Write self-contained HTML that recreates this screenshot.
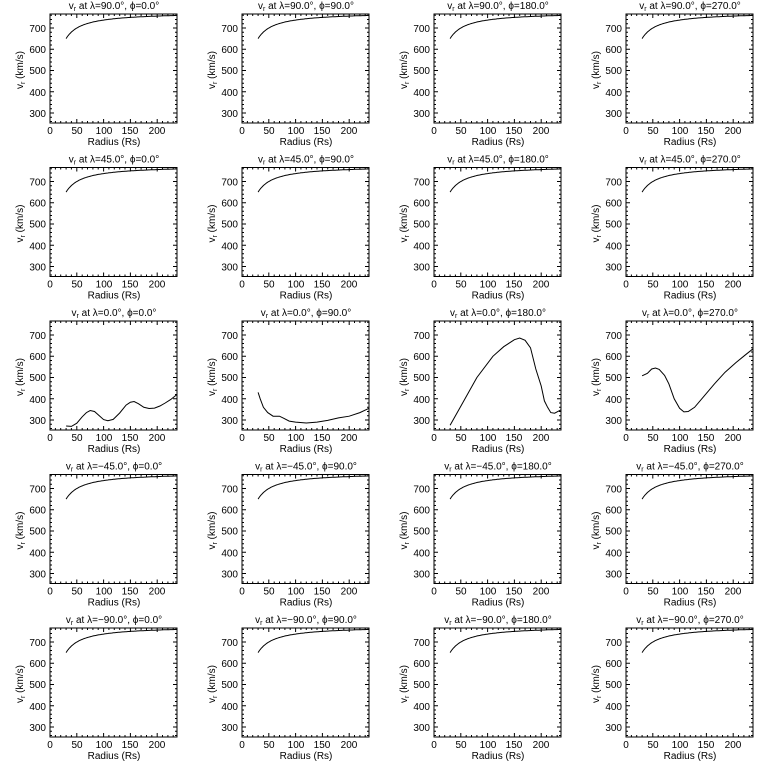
<!DOCTYPE html>
<html><head><meta charset="utf-8"><style>
body{margin:0;background:#fff}
svg{display:block}
text{font-family:"Liberation Sans",sans-serif;font-size:10px;fill:#000}
.t{text-anchor:middle}
.y{text-anchor:end}
</style></head><body>
<svg id="s" width="768" height="768" viewBox="0 0 768 768">
<rect width="768" height="768" fill="#fff"/>
<g id="p0" transform="translate(50,14)"><text class="t" x="64" y="-5">v<tspan font-size="7" dy="2">r</tspan><tspan dy="-2"> at λ=90.0°, ϕ=0.0°</tspan></text><text class="y" x="-4" y="18">700</text><text class="y" x="-4" y="39">600</text><text class="y" x="-4" y="60">500</text><text class="y" x="-4" y="82">400</text><text class="y" x="-4" y="103">300</text><text class="t" x="0" y="120">0</text><text class="t" x="27" y="120">50</text><text class="t" x="54" y="120">100</text><text class="t" x="80" y="120">150</text><text class="t" x="107" y="120">200</text><text class="t" x="64" y="131">Radius (Rs)</text><text class="t" transform="translate(-27,56) rotate(-90)">v<tspan font-size="7" dy="2">r</tspan><tspan dy="-2"> (km/s)</tspan></text></g>
<g id="p1" transform="translate(242,14)"><text class="t" x="64" y="-5">v<tspan font-size="7" dy="2">r</tspan><tspan dy="-2"> at λ=90.0°, ϕ=90.0°</tspan></text><text class="y" x="-4" y="18">700</text><text class="y" x="-4" y="39">600</text><text class="y" x="-4" y="60">500</text><text class="y" x="-4" y="82">400</text><text class="y" x="-4" y="103">300</text><text class="t" x="0" y="120">0</text><text class="t" x="27" y="120">50</text><text class="t" x="54" y="120">100</text><text class="t" x="80" y="120">150</text><text class="t" x="107" y="120">200</text><text class="t" x="64" y="131">Radius (Rs)</text><text class="t" transform="translate(-27,56) rotate(-90)">v<tspan font-size="7" dy="2">r</tspan><tspan dy="-2"> (km/s)</tspan></text></g>
<g id="p2" transform="translate(434,14)"><text class="t" x="64" y="-5">v<tspan font-size="7" dy="2">r</tspan><tspan dy="-2"> at λ=90.0°, ϕ=180.0°</tspan></text><text class="y" x="-4" y="18">700</text><text class="y" x="-4" y="39">600</text><text class="y" x="-4" y="60">500</text><text class="y" x="-4" y="82">400</text><text class="y" x="-4" y="103">300</text><text class="t" x="0" y="120">0</text><text class="t" x="27" y="120">50</text><text class="t" x="54" y="120">100</text><text class="t" x="80" y="120">150</text><text class="t" x="107" y="120">200</text><text class="t" x="64" y="131">Radius (Rs)</text><text class="t" transform="translate(-27,56) rotate(-90)">v<tspan font-size="7" dy="2">r</tspan><tspan dy="-2"> (km/s)</tspan></text></g>
<g id="p3" transform="translate(626,14)"><text class="t" x="64" y="-5">v<tspan font-size="7" dy="2">r</tspan><tspan dy="-2"> at λ=90.0°, ϕ=270.0°</tspan></text><text class="y" x="-4" y="18">700</text><text class="y" x="-4" y="39">600</text><text class="y" x="-4" y="60">500</text><text class="y" x="-4" y="82">400</text><text class="y" x="-4" y="103">300</text><text class="t" x="0" y="120">0</text><text class="t" x="27" y="120">50</text><text class="t" x="54" y="120">100</text><text class="t" x="80" y="120">150</text><text class="t" x="107" y="120">200</text><text class="t" x="64" y="131">Radius (Rs)</text><text class="t" transform="translate(-27,56) rotate(-90)">v<tspan font-size="7" dy="2">r</tspan><tspan dy="-2"> (km/s)</tspan></text></g>
<g id="p4" transform="translate(50,167.5)"><text class="t" x="64" y="-5">v<tspan font-size="7" dy="2">r</tspan><tspan dy="-2"> at λ=45.0°, ϕ=0.0°</tspan></text><text class="y" x="-4" y="18">700</text><text class="y" x="-4" y="39">600</text><text class="y" x="-4" y="60">500</text><text class="y" x="-4" y="82">400</text><text class="y" x="-4" y="103">300</text><text class="t" x="0" y="120">0</text><text class="t" x="27" y="120">50</text><text class="t" x="54" y="120">100</text><text class="t" x="80" y="120">150</text><text class="t" x="107" y="120">200</text><text class="t" x="64" y="131">Radius (Rs)</text><text class="t" transform="translate(-27,56) rotate(-90)">v<tspan font-size="7" dy="2">r</tspan><tspan dy="-2"> (km/s)</tspan></text></g>
<g id="p5" transform="translate(242,167.5)"><text class="t" x="64" y="-5">v<tspan font-size="7" dy="2">r</tspan><tspan dy="-2"> at λ=45.0°, ϕ=90.0°</tspan></text><text class="y" x="-4" y="18">700</text><text class="y" x="-4" y="39">600</text><text class="y" x="-4" y="60">500</text><text class="y" x="-4" y="82">400</text><text class="y" x="-4" y="103">300</text><text class="t" x="0" y="120">0</text><text class="t" x="27" y="120">50</text><text class="t" x="54" y="120">100</text><text class="t" x="80" y="120">150</text><text class="t" x="107" y="120">200</text><text class="t" x="64" y="131">Radius (Rs)</text><text class="t" transform="translate(-27,56) rotate(-90)">v<tspan font-size="7" dy="2">r</tspan><tspan dy="-2"> (km/s)</tspan></text></g>
<g id="p6" transform="translate(434,167.5)"><text class="t" x="64" y="-5">v<tspan font-size="7" dy="2">r</tspan><tspan dy="-2"> at λ=45.0°, ϕ=180.0°</tspan></text><text class="y" x="-4" y="18">700</text><text class="y" x="-4" y="39">600</text><text class="y" x="-4" y="60">500</text><text class="y" x="-4" y="82">400</text><text class="y" x="-4" y="103">300</text><text class="t" x="0" y="120">0</text><text class="t" x="27" y="120">50</text><text class="t" x="54" y="120">100</text><text class="t" x="80" y="120">150</text><text class="t" x="107" y="120">200</text><text class="t" x="64" y="131">Radius (Rs)</text><text class="t" transform="translate(-27,56) rotate(-90)">v<tspan font-size="7" dy="2">r</tspan><tspan dy="-2"> (km/s)</tspan></text></g>
<g id="p7" transform="translate(626,167.5)"><text class="t" x="64" y="-5">v<tspan font-size="7" dy="2">r</tspan><tspan dy="-2"> at λ=45.0°, ϕ=270.0°</tspan></text><text class="y" x="-4" y="18">700</text><text class="y" x="-4" y="39">600</text><text class="y" x="-4" y="60">500</text><text class="y" x="-4" y="82">400</text><text class="y" x="-4" y="103">300</text><text class="t" x="0" y="120">0</text><text class="t" x="27" y="120">50</text><text class="t" x="54" y="120">100</text><text class="t" x="80" y="120">150</text><text class="t" x="107" y="120">200</text><text class="t" x="64" y="131">Radius (Rs)</text><text class="t" transform="translate(-27,56) rotate(-90)">v<tspan font-size="7" dy="2">r</tspan><tspan dy="-2"> (km/s)</tspan></text></g>
<g id="p8" transform="translate(50,321)"><text class="t" x="64" y="-5">v<tspan font-size="7" dy="2">r</tspan><tspan dy="-2"> at λ=0.0°, ϕ=0.0°</tspan></text><text class="y" x="-4" y="18">700</text><text class="y" x="-4" y="39">600</text><text class="y" x="-4" y="60">500</text><text class="y" x="-4" y="82">400</text><text class="y" x="-4" y="103">300</text><text class="t" x="0" y="120">0</text><text class="t" x="27" y="120">50</text><text class="t" x="54" y="120">100</text><text class="t" x="80" y="120">150</text><text class="t" x="107" y="120">200</text><text class="t" x="64" y="131">Radius (Rs)</text><text class="t" transform="translate(-27,56) rotate(-90)">v<tspan font-size="7" dy="2">r</tspan><tspan dy="-2"> (km/s)</tspan></text></g>
<g id="p9" transform="translate(242,321)"><text class="t" x="64" y="-5">v<tspan font-size="7" dy="2">r</tspan><tspan dy="-2"> at λ=0.0°, ϕ=90.0°</tspan></text><text class="y" x="-4" y="18">700</text><text class="y" x="-4" y="39">600</text><text class="y" x="-4" y="60">500</text><text class="y" x="-4" y="82">400</text><text class="y" x="-4" y="103">300</text><text class="t" x="0" y="120">0</text><text class="t" x="27" y="120">50</text><text class="t" x="54" y="120">100</text><text class="t" x="80" y="120">150</text><text class="t" x="107" y="120">200</text><text class="t" x="64" y="131">Radius (Rs)</text><text class="t" transform="translate(-27,56) rotate(-90)">v<tspan font-size="7" dy="2">r</tspan><tspan dy="-2"> (km/s)</tspan></text></g>
<g id="p10" transform="translate(434,321)"><text class="t" x="64" y="-5">v<tspan font-size="7" dy="2">r</tspan><tspan dy="-2"> at λ=0.0°, ϕ=180.0°</tspan></text><text class="y" x="-4" y="18">700</text><text class="y" x="-4" y="39">600</text><text class="y" x="-4" y="60">500</text><text class="y" x="-4" y="82">400</text><text class="y" x="-4" y="103">300</text><text class="t" x="0" y="120">0</text><text class="t" x="27" y="120">50</text><text class="t" x="54" y="120">100</text><text class="t" x="80" y="120">150</text><text class="t" x="107" y="120">200</text><text class="t" x="64" y="131">Radius (Rs)</text><text class="t" transform="translate(-27,56) rotate(-90)">v<tspan font-size="7" dy="2">r</tspan><tspan dy="-2"> (km/s)</tspan></text></g>
<g id="p11" transform="translate(626,321)"><text class="t" x="64" y="-5">v<tspan font-size="7" dy="2">r</tspan><tspan dy="-2"> at λ=0.0°, ϕ=270.0°</tspan></text><text class="y" x="-4" y="18">700</text><text class="y" x="-4" y="39">600</text><text class="y" x="-4" y="60">500</text><text class="y" x="-4" y="82">400</text><text class="y" x="-4" y="103">300</text><text class="t" x="0" y="120">0</text><text class="t" x="27" y="120">50</text><text class="t" x="54" y="120">100</text><text class="t" x="80" y="120">150</text><text class="t" x="107" y="120">200</text><text class="t" x="64" y="131">Radius (Rs)</text><text class="t" transform="translate(-27,56) rotate(-90)">v<tspan font-size="7" dy="2">r</tspan><tspan dy="-2"> (km/s)</tspan></text></g>
<g id="p12" transform="translate(50,474.5)"><text class="t" x="64" y="-5">v<tspan font-size="7" dy="2">r</tspan><tspan dy="-2"> at λ=−45.0°, ϕ=0.0°</tspan></text><text class="y" x="-4" y="18">700</text><text class="y" x="-4" y="39">600</text><text class="y" x="-4" y="60">500</text><text class="y" x="-4" y="82">400</text><text class="y" x="-4" y="103">300</text><text class="t" x="0" y="120">0</text><text class="t" x="27" y="120">50</text><text class="t" x="54" y="120">100</text><text class="t" x="80" y="120">150</text><text class="t" x="107" y="120">200</text><text class="t" x="64" y="131">Radius (Rs)</text><text class="t" transform="translate(-27,56) rotate(-90)">v<tspan font-size="7" dy="2">r</tspan><tspan dy="-2"> (km/s)</tspan></text></g>
<g id="p13" transform="translate(242,474.5)"><text class="t" x="64" y="-5">v<tspan font-size="7" dy="2">r</tspan><tspan dy="-2"> at λ=−45.0°, ϕ=90.0°</tspan></text><text class="y" x="-4" y="18">700</text><text class="y" x="-4" y="39">600</text><text class="y" x="-4" y="60">500</text><text class="y" x="-4" y="82">400</text><text class="y" x="-4" y="103">300</text><text class="t" x="0" y="120">0</text><text class="t" x="27" y="120">50</text><text class="t" x="54" y="120">100</text><text class="t" x="80" y="120">150</text><text class="t" x="107" y="120">200</text><text class="t" x="64" y="131">Radius (Rs)</text><text class="t" transform="translate(-27,56) rotate(-90)">v<tspan font-size="7" dy="2">r</tspan><tspan dy="-2"> (km/s)</tspan></text></g>
<g id="p14" transform="translate(434,474.5)"><text class="t" x="64" y="-5">v<tspan font-size="7" dy="2">r</tspan><tspan dy="-2"> at λ=−45.0°, ϕ=180.0°</tspan></text><text class="y" x="-4" y="18">700</text><text class="y" x="-4" y="39">600</text><text class="y" x="-4" y="60">500</text><text class="y" x="-4" y="82">400</text><text class="y" x="-4" y="103">300</text><text class="t" x="0" y="120">0</text><text class="t" x="27" y="120">50</text><text class="t" x="54" y="120">100</text><text class="t" x="80" y="120">150</text><text class="t" x="107" y="120">200</text><text class="t" x="64" y="131">Radius (Rs)</text><text class="t" transform="translate(-27,56) rotate(-90)">v<tspan font-size="7" dy="2">r</tspan><tspan dy="-2"> (km/s)</tspan></text></g>
<g id="p15" transform="translate(626,474.5)"><text class="t" x="64" y="-5">v<tspan font-size="7" dy="2">r</tspan><tspan dy="-2"> at λ=−45.0°, ϕ=270.0°</tspan></text><text class="y" x="-4" y="18">700</text><text class="y" x="-4" y="39">600</text><text class="y" x="-4" y="60">500</text><text class="y" x="-4" y="82">400</text><text class="y" x="-4" y="103">300</text><text class="t" x="0" y="120">0</text><text class="t" x="27" y="120">50</text><text class="t" x="54" y="120">100</text><text class="t" x="80" y="120">150</text><text class="t" x="107" y="120">200</text><text class="t" x="64" y="131">Radius (Rs)</text><text class="t" transform="translate(-27,56) rotate(-90)">v<tspan font-size="7" dy="2">r</tspan><tspan dy="-2"> (km/s)</tspan></text></g>
<g id="p16" transform="translate(50,628)"><text class="t" x="64" y="-5">v<tspan font-size="7" dy="2">r</tspan><tspan dy="-2"> at λ=−90.0°, ϕ=0.0°</tspan></text><text class="y" x="-4" y="18">700</text><text class="y" x="-4" y="39">600</text><text class="y" x="-4" y="60">500</text><text class="y" x="-4" y="82">400</text><text class="y" x="-4" y="103">300</text><text class="t" x="0" y="120">0</text><text class="t" x="27" y="120">50</text><text class="t" x="54" y="120">100</text><text class="t" x="80" y="120">150</text><text class="t" x="107" y="120">200</text><text class="t" x="64" y="131">Radius (Rs)</text><text class="t" transform="translate(-27,56) rotate(-90)">v<tspan font-size="7" dy="2">r</tspan><tspan dy="-2"> (km/s)</tspan></text></g>
<g id="p17" transform="translate(242,628)"><text class="t" x="64" y="-5">v<tspan font-size="7" dy="2">r</tspan><tspan dy="-2"> at λ=−90.0°, ϕ=90.0°</tspan></text><text class="y" x="-4" y="18">700</text><text class="y" x="-4" y="39">600</text><text class="y" x="-4" y="60">500</text><text class="y" x="-4" y="82">400</text><text class="y" x="-4" y="103">300</text><text class="t" x="0" y="120">0</text><text class="t" x="27" y="120">50</text><text class="t" x="54" y="120">100</text><text class="t" x="80" y="120">150</text><text class="t" x="107" y="120">200</text><text class="t" x="64" y="131">Radius (Rs)</text><text class="t" transform="translate(-27,56) rotate(-90)">v<tspan font-size="7" dy="2">r</tspan><tspan dy="-2"> (km/s)</tspan></text></g>
<g id="p18" transform="translate(434,628)"><text class="t" x="64" y="-5">v<tspan font-size="7" dy="2">r</tspan><tspan dy="-2"> at λ=−90.0°, ϕ=180.0°</tspan></text><text class="y" x="-4" y="18">700</text><text class="y" x="-4" y="39">600</text><text class="y" x="-4" y="60">500</text><text class="y" x="-4" y="82">400</text><text class="y" x="-4" y="103">300</text><text class="t" x="0" y="120">0</text><text class="t" x="27" y="120">50</text><text class="t" x="54" y="120">100</text><text class="t" x="80" y="120">150</text><text class="t" x="107" y="120">200</text><text class="t" x="64" y="131">Radius (Rs)</text><text class="t" transform="translate(-27,56) rotate(-90)">v<tspan font-size="7" dy="2">r</tspan><tspan dy="-2"> (km/s)</tspan></text></g>
<g id="p19" transform="translate(626,628)"><text class="t" x="64" y="-5">v<tspan font-size="7" dy="2">r</tspan><tspan dy="-2"> at λ=−90.0°, ϕ=270.0°</tspan></text><text class="y" x="-4" y="18">700</text><text class="y" x="-4" y="39">600</text><text class="y" x="-4" y="60">500</text><text class="y" x="-4" y="82">400</text><text class="y" x="-4" y="103">300</text><text class="t" x="0" y="120">0</text><text class="t" x="27" y="120">50</text><text class="t" x="54" y="120">100</text><text class="t" x="80" y="120">150</text><text class="t" x="107" y="120">200</text><text class="t" x="64" y="131">Radius (Rs)</text><text class="t" transform="translate(-27,56) rotate(-90)">v<tspan font-size="7" dy="2">r</tspan><tspan dy="-2"> (km/s)</tspan></text></g>
</svg>
<script>
var NS="http://www.w3.org/2000/svg",W=127,H=109;
function X(r){return r*W/237}
function Y(v){return (766-v)*H/513}
var eq={
8:[[30,272],[40,270],[50,285],[60,315],[68,335],[75,345],[83,340],[92,320],[100,302],[108,297],[118,303],[130,333],[142,370],[150,384],[157,387],[165,377],[175,360],[185,354],[195,356],[205,366],[215,380],[225,396],[237,420]],
9:[[30,430],[34,400],[40,360],[48,335],[58,318],[70,318],[78,308],[88,295],[100,290],[120,286],[140,290],[160,298],[180,310],[200,318],[220,335],[237,355]],
10:[[30,275],[50,365],[80,500],[110,600],[130,645],[150,678],[160,686],[170,675],[180,640],[190,540],[200,460],[206,390],[212,360],[218,335],[225,332],[237,348]],
11:[[30,508],[40,520],[48,540],[55,545],[62,538],[72,510],[80,470],[90,400],[100,355],[108,338],[116,340],[128,360],[145,410],[165,470],[185,525],[205,570],[222,605],[237,635]]};
for(var i=0;i<20;i++){
 var g=document.getElementById("p"+i),d="M0 0H"+W+"V"+H+"H0Z";
 for(var r=0;r<=237;r+=10){var x=X(r).toFixed(1),L=(r%50==0)?4:2;d+="M"+x+" "+H+"v-"+L+"M"+x+" 0v"+L;}
 for(var v=260;v<=760;v+=20){var y=Y(v).toFixed(1),L=(v%100==0)?4:2;d+="M0 "+y+"h"+L+"M"+W+" "+y+"h-"+L;}
 var p=document.createElementNS(NS,"path");p.setAttribute("d",d);p.setAttribute("fill","none");p.setAttribute("stroke","#000");p.setAttribute("stroke-width","1");g.appendChild(p);
 var pts=[];
 if(eq[i]){pts=eq[i].map(function(a){return X(a[0]).toFixed(1)+","+Y(a[1]).toFixed(1)});}
 else{for(var r=30;r<=237;r+=2){var v=Math.min(766,775-3750/r);pts.push(X(r).toFixed(1)+","+Y(v).toFixed(1));}}
 var l=document.createElementNS(NS,"polyline");l.setAttribute("points",pts.join(" "));l.setAttribute("fill","none");l.setAttribute("stroke","#000");l.setAttribute("stroke-width","1");g.appendChild(l);
}
</script>
</body></html>
